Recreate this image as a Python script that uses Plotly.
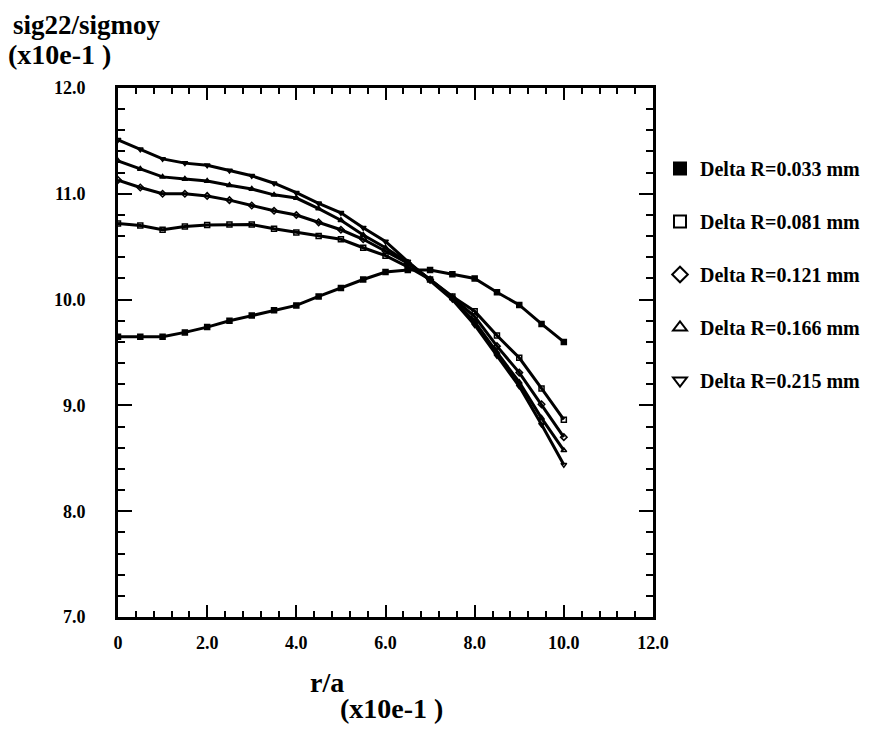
import plotly.graph_objects as go

x_vals = [0, 0.5, 1.0, 1.5, 2.0, 2.5, 3.0, 3.5, 4.0, 4.5, 5.0, 5.5, 6.0, 6.5, 7.0, 7.5, 8.0, 8.5, 9.0, 9.5, 10.0]

s_033 = [9.65, 9.65, 9.65, 9.69, 9.74, 9.80, 9.85, 9.90, 9.945, 10.03, 10.11, 10.19, 10.26, 10.28, 10.28, 10.24, 10.20, 10.07, 9.95, 9.77, 9.60]
s_081 = [10.72, 10.70, 10.66, 10.69, 10.705, 10.71, 10.71, 10.67, 10.635, 10.60, 10.57, 10.49, 10.415, 10.31, 10.19, 10.03, 9.89, 9.66, 9.45, 9.16, 8.865]
s_121 = [11.13, 11.06, 11.00, 11.00, 10.98, 10.94, 10.89, 10.84, 10.80, 10.73, 10.66, 10.57, 10.46, 10.345, 10.19, 10.02, 9.84, 9.56, 9.31, 9.01, 8.70]
s_166 = [11.31, 11.235, 11.16, 11.14, 11.12, 11.08, 11.045, 10.99, 10.96, 10.86, 10.75, 10.61, 10.49, 10.35, 10.19, 10.01, 9.79, 9.50, 9.22, 8.88, 8.575]
s_215 = [11.51, 11.42, 11.33, 11.29, 11.27, 11.22, 11.17, 11.10, 11.01, 10.91, 10.82, 10.68, 10.55, 10.36, 10.18, 10.00, 9.76, 9.47, 9.18, 8.82, 8.44]

series_names = ["Delta R=0.033 mm", "Delta R=0.081 mm", "Delta R=0.121 mm", "Delta R=0.166 mm", "Delta R=0.215 mm"]
series_values = [s_033, s_081, s_121, s_166, s_215]
series_symbols = ["square", "square-open", "diamond-open", "triangle-up-open", "triangle-down-open"]

x_tickvals = [0, 2, 4, 6, 8, 10, 12]
x_ticktext = ["0", "2.0", "4.0", "6.0", "8.0", "10.0", "12.0"]
y_tickvals = [7, 8, 9, 10, 11, 12]
y_ticktext = ["7.0", "8.0", "9.0", "10.0", "11.0", "12.0"]

FONT = "Liberation Serif"
OFF = 8  # default page body margin
W, H = 871 - 2 * OFF, 737 - 2 * OFF
# target screen positions of the plot frame
SL, SR, ST, SB = 118, 653, 88, 617
L, T = SL - OFF, ST - OFF
R, B = W - (SR - OFF), H - (SB - OFF)
PW, PH = W - L - R, H - T - B

fig = go.Figure()
for name, vals, sym in zip(series_names, series_values, series_symbols):
    fig.add_trace(go.Scatter(
        x=x_vals, y=vals, mode="lines+markers", showlegend=False,
        line=dict(color="black", width=3),
        marker=dict(symbol=sym, size=5, color="black", line=dict(color="black", width=1.5)),
    ))
for i, (name, sym) in enumerate(zip(series_names, series_symbols)):
    fig.add_trace(go.Scatter(
        x=[None], y=[None], mode="markers", name=name, legendgroup=f"g{i}",
        marker=dict(symbol=sym, size=12, color="black", line=dict(color="black", width=2)),
    ))

axis_common = dict(
    showgrid=False, zeroline=False, showline=True, linecolor="black", linewidth=3,
    mirror="allticks", ticks="inside", tickcolor="black", tickwidth=2, automargin=False,
    tickfont=dict(family=FONT, size=18, color="black", weight="bold"),
)

fig.update_xaxes(
    range=[0, 12], tickvals=x_tickvals, ticktext=x_ticktext, ticklen=12,
    minor=dict(dtick=0.4, tick0=0, ticks="inside", ticklen=6, tickcolor="black", tickwidth=2),
    ticklabelstandoff=7, **axis_common,
)
fig.update_yaxes(
    range=[7, 12], tickvals=y_tickvals, ticktext=y_ticktext, ticklen=14,
    minor=dict(dtick=0.2, tick0=7, ticks="inside", ticklen=7, tickcolor="black", tickwidth=2),
    ticklabelstandoff=26, **axis_common,
)

def px_x(p):
    return (p - OFF - L) / PW

def px_y(p):
    return 1 - (p - OFF - T) / PH

title_font = dict(family=FONT, size=27, color="black", weight="bold")
unit_font = dict(family=FONT, size=28, color="black", weight="bold")
ra_font = dict(family=FONT, size=28, color="black", weight="bold")

fig.update_layout(
    width=W, height=H,
    margin=dict(l=L, r=R, t=T, b=B, autoexpand=False),
    paper_bgcolor="white", plot_bgcolor="white",
    font=dict(family=FONT, color="black"),
    legend=dict(
        xref="container", yref="container", x=(660 - OFF) / W, y=1 - (149 - OFF) / H,
        xanchor="left", yanchor="top",
        font=dict(family=FONT, size=20, color="black", weight="bold"),
        tracegroupgap=24, itemsizing="constant", bgcolor="rgba(0,0,0,0)",
    ),
    annotations=[
        dict(text="sig22/sigmoy", xref="paper", yref="paper", x=px_x(11), y=px_y(25),
             xanchor="left", yanchor="middle", showarrow=False, font=title_font),
        dict(text="(x10e-1 )", xref="paper", yref="paper", x=px_x(6), y=px_y(54),
             xanchor="left", yanchor="middle", showarrow=False, font=unit_font),
        dict(text="r/a", xref="paper", yref="paper", x=px_x(308), y=px_y(682),
             xanchor="left", yanchor="middle", showarrow=False, font=ra_font),
        dict(text="(x10e-1 )", xref="paper", yref="paper", x=px_x(338), y=px_y(708),
             xanchor="left", yanchor="middle", showarrow=False, font=unit_font),
    ],
)

fig.write_html("out.html")
